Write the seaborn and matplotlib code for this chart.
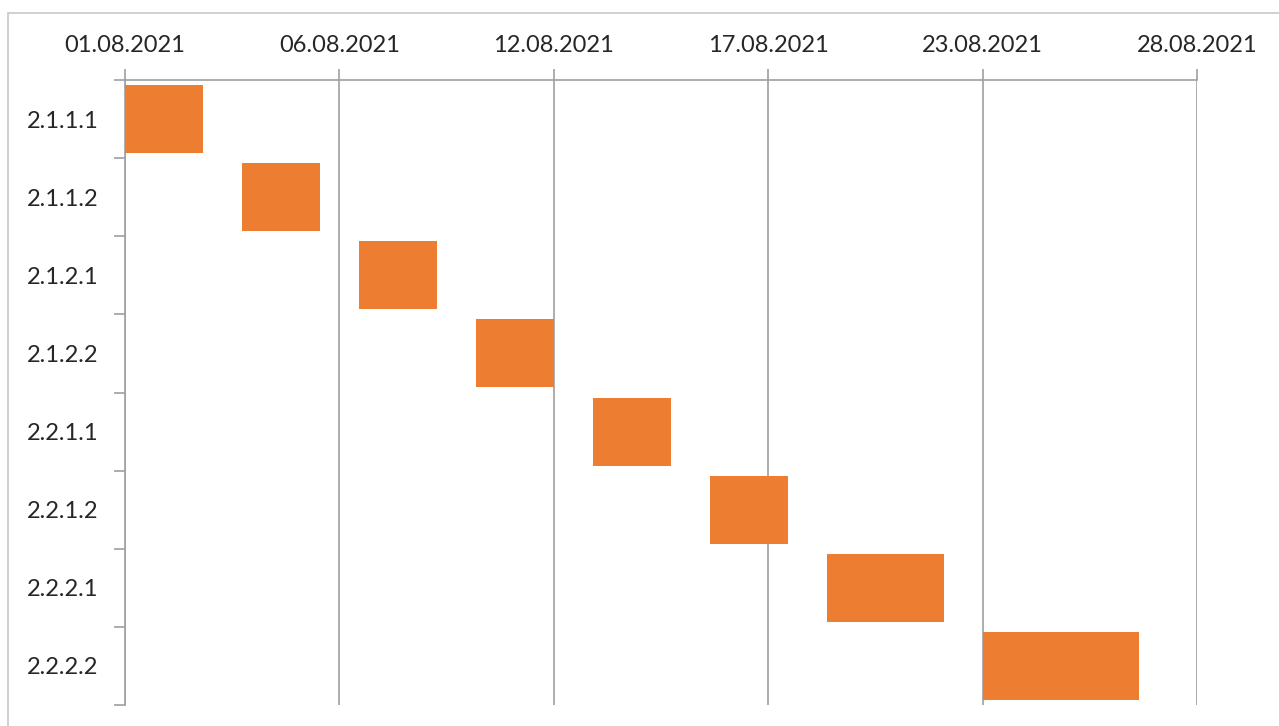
import pandas as pd
import seaborn as sns
import matplotlib.pyplot as plt
from matplotlib.patches import Rectangle

# Task data (Gantt)
tasks = ["2.1.1.1", "2.1.1.2", "2.1.2.1", "2.1.2.2", "2.2.1.1", "2.2.1.2", "2.2.2.1", "2.2.2.2"]
start_dates = ["2021-08-01", "2021-08-04", "2021-08-07", "2021-08-10",
               "2021-08-13", "2021-08-16", "2021-08-19", "2021-08-23"]
durations = [2, 2, 2, 2, 2, 2, 3, 4]

# Axis ticks (days from 01.08.2021) and labels
tick_days = [0, 5.5, 11, 16.5, 22, 27.5]
tick_labels = ["01.08.2021", "06.08.2021", "12.08.2021", "17.08.2021", "23.08.2021", "28.08.2021"]

base = pd.Timestamp("2021-08-01")
df = pd.DataFrame({"task": tasks, "start": pd.to_datetime(start_dates), "duration": durations})
df["offset"] = (df["start"] - base).dt.days

sns.set_style("white")
plt.rcParams['font.family'] = ['Lato', 'DejaVu Sans']

fig = plt.figure(figsize=(12.79, 7.26), dpi=100)
W, H = 1279, 726
ax = fig.add_axes([125 / W, 1 - 705 / H, (1197 - 125) / W, (705 - 80) / H])

# chart frame
fig.patches.append(Rectangle((8 / W, -0.1), 1.2, 1 - 12.5 / H + 0.1, transform=fig.transFigure,
                             fill=False, edgecolor="#c8c8c8", linewidth=1.2))

sns.barplot(data=df, x="duration", y="task", orient="h", color="#ED7D31", saturation=1,
            width=0.87, left=df["offset"].tolist(), ax=ax, linewidth=0, zorder=3)

ax.set_xlim(0, 27.5)
ax.set_ylim(len(tasks) - 0.5, -0.5)
ax.xaxis.tick_top()
ax.set_xticks(tick_days)
ax.set_xticklabels(tick_labels, fontsize=17)
ax.tick_params(axis="x", top=True, length=8, color="#a0a0a0", width=1.2, pad=9)
ax.grid(axis="x", color="#a0a0a0", linewidth=1.2, zorder=0)
ax.grid(axis="y", visible=False)

ax.set_yticks(range(len(tasks)))
ax.set_yticklabels(tasks, fontsize=17)
ax.set_yticks([i - 0.5 for i in range(len(tasks) + 1)], minor=True)
ax.tick_params(axis="y", which="major", left=True, length=0, pad=19)
ax.tick_params(axis="y", which="minor", left=True, length=8, color="#a0a0a0", width=1.2)

ax.set_xlabel("")
ax.set_ylabel("")
for s in ["right", "bottom"]:
    ax.spines[s].set_visible(False)
for s in ["top", "left"]:
    ax.spines[s].set_color("#a0a0a0")
    ax.spines[s].set_linewidth(1.2)

fig.savefig("out.png", dpi=100)
